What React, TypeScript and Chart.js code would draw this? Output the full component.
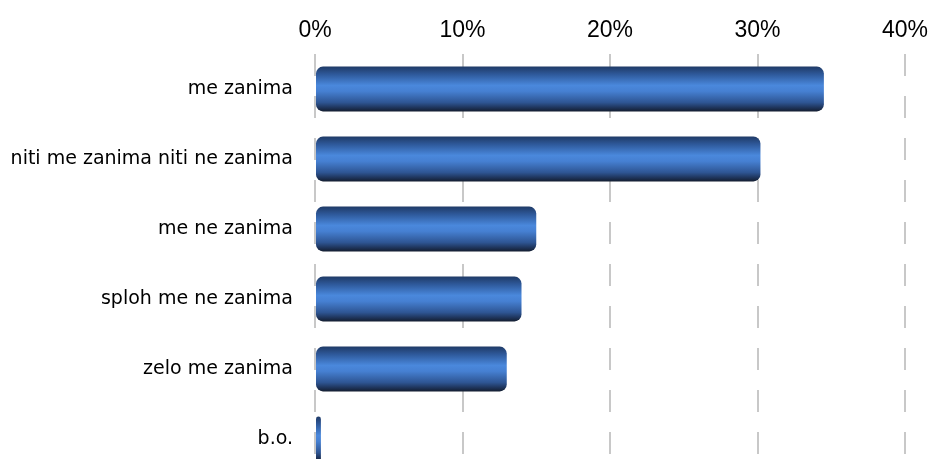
import React, { useEffect, useRef } from "react";
import { Chart, registerables } from "chart.js";

Chart.register(...registerables);

const categories = [
  "me zanima",
  "niti me zanima niti ne zanima",
  "me ne zanima",
  "sploh me ne zanima",
  "zelo me zanima",
  "b.o.",
];
const shares = [34.5, 30.2, 15.0, 14.0, 13.0, 0.4];
const tickValues = [0, 10, 20, 30, 40];

export default function App() {
  const ref = useRef<HTMLCanvasElement | null>(null);

  useEffect(() => {
    document.body.style.margin = "0";
    const canvas = ref.current;
    if (!canvas) return;
    const chart = new Chart(canvas, {
      type: "bar",
      data: {
        labels: categories,
        datasets: [
          {
            data: shares,
            backgroundColor: (c: any) => {
              const ch = c.chart;
              const area = ch.chartArea;
              if (!area || c.type !== "data" || !ch.scales.y) return "#3a6fc0";
              const yc = ch.scales.y.getPixelForValue(c.dataIndex);
              const h = 45;
              const g = ch.ctx.createLinearGradient(0, yc - h / 2, 0, yc + h / 2);
              g.addColorStop(0, "#1f3a66");
              g.addColorStop(0.18, "#2f5a9c");
              g.addColorStop(0.42, "#4a88dc");
              g.addColorStop(0.55, "#4680d2");
              g.addColorStop(0.8, "#2e5593");
              g.addColorStop(0.93, "#1c3053");
              g.addColorStop(1, "#141e30");
              return g;
            },
            borderWidth: 0,
            borderRadius: 7,
            borderSkipped: false,
            barPercentage: 0.64,
            categoryPercentage: 1,
          },
        ],
      },
      options: {
        indexAxis: "y",
        animation: false,
        responsive: false,
        maintainAspectRatio: false,
        layout: { autoPadding: false, padding: { top: 0, right: 28, bottom: 0, left: 0 } },
        plugins: {
          legend: { display: false },
          tooltip: { enabled: false },
          title: { display: false },
        },
        scales: {
          x: {
            position: "top",
            min: 0,
            max: 40,
            afterFit: (s: any) => {
              s.height = 54;
              s.paddingLeft = 0;
              s.paddingRight = 0;
            },
            afterBuildTicks: (s: any) => {
              s.ticks = tickValues.map((v) => ({ value: v }));
            },
            ticks: {
              padding: 10,
              color: "#000",
              font: { family: "'Liberation Sans Narrow', 'Liberation Sans', sans-serif", size: 23 },
              callback: (v: any) => v + "%",
            },
            grid: {
              display: true,
              drawTicks: false,
              color: "#c8c8c8",
              lineWidth: 2,
            },
            border: { display: false, dash: [22, 20] },
          },
          y: {
            afterFit: (s: any) => {
              s.width = 315;
              s.paddingTop = 0;
              s.paddingBottom = 0;
            },
            ticks: {
              padding: 22,
              color: "#000",
              font: { family: "'DejaVu Sans', sans-serif", size: 19 },
            },
            grid: { display: false, drawTicks: false },
            border: { display: false },
          },
        },
      },
    } as any);
    return () => chart.destroy();
  }, []);

  return (
    <div style={{ position: "relative", width: 933, height: 459, overflow: "hidden", background: "#fff" }}>
      <canvas ref={ref} width={933} height={474} style={{ display: "block", width: 933, height: 474 }} />
    </div>
  );
}
